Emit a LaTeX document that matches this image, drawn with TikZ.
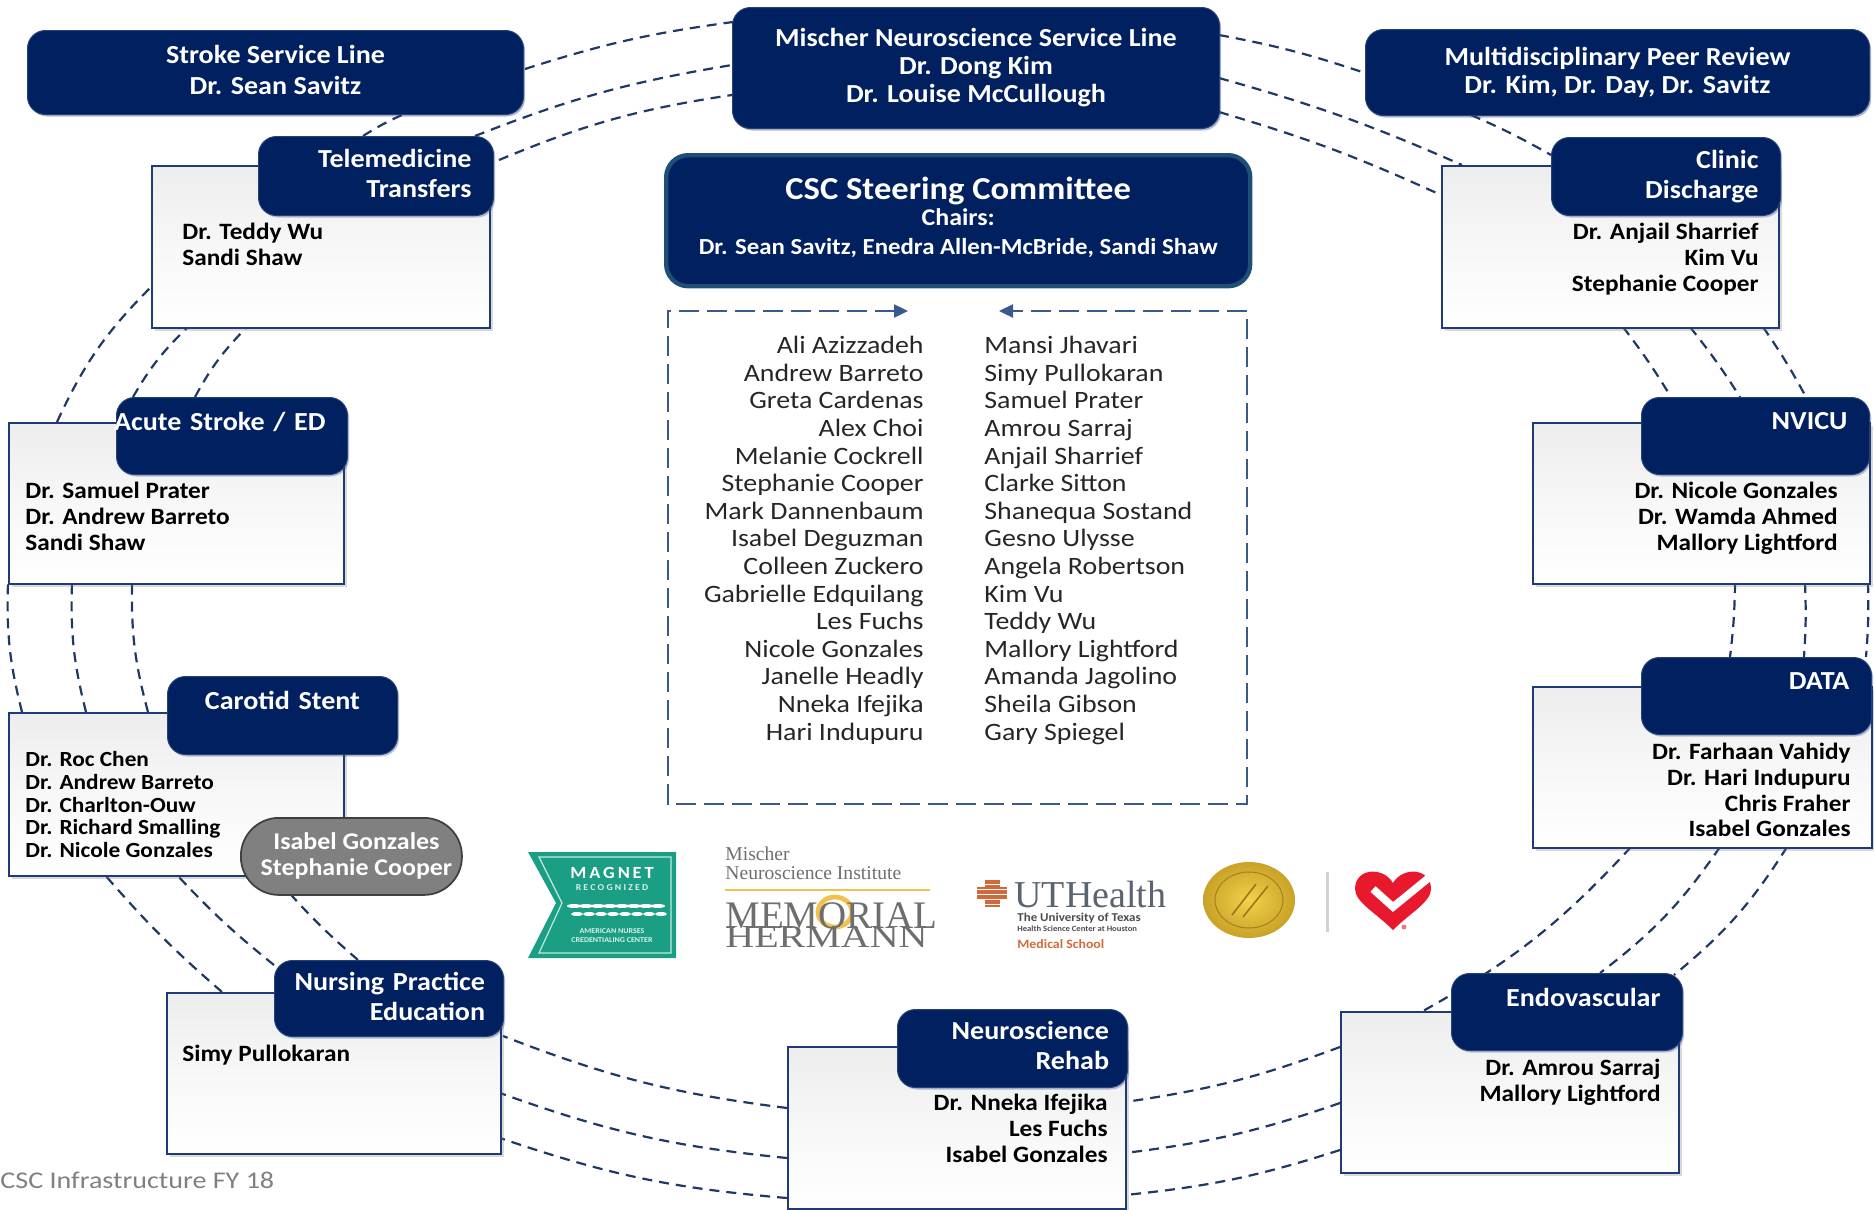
\documentclass[tikz,border=0pt]{standalone}
\usepackage{fontspec}
\setmainfont{Carlito}[FakeStretch=1.08]
\newfontfamily\namesf{Carlito}[FakeStretch=1.115]
\newfontfamily\footf{Carlito}[FakeStretch=1.17]
\newfontfamily\serifl{Liberation Serif}
\usetikzlibrary{shadows,backgrounds,arrows.meta}
\definecolor{navy}{HTML}{002060}
\definecolor{edge}{HTML}{1F3A78}
\definecolor{dashc}{HTML}{1F3864}
\definecolor{boxd}{HTML}{3A5A8C}
\definecolor{cscb}{HTML}{1F4E79}
\definecolor{magnet}{HTML}{1A9E84}
\definecolor{ut}{HTML}{D2693C}
\definecolor{utg}{HTML}{5A6470}
\definecolor{hred}{HTML}{E8192C}
\definecolor{mh}{HTML}{6E6E6E}
\definecolor{goldin}{HTML}{F2D24A}
\definecolor{goldout}{HTML}{C9A227}
\definecolor{ringy}{HTML}{F2C14E}
\newcommand\link[5]{\draw[conn] ([shift={(#2)}]#1.north west) to[bend left=#5] ([shift={(#4)}]#3.north west);}
\tikzset{
  conn/.style={draw=dashc,line width=1.1pt,dash pattern=on 5pt off 3.5pt},
  topbox/.style 2 args={rectangle,rounded corners=9pt,fill=navy,draw=navy!85!white,line width=.5pt,
    text=white,font=\fontsize{13}{14}\selectfont\bfseries,align=center,anchor=north west,inner sep=0pt,
    minimum width=#1*0.5pt,minimum height=#2*0.5pt,
    copy shadow={shadow xshift=.8pt,shadow yshift=-1pt,opacity=.35,fill=edge,draw=none}},
  hdr/.style 2 args={rectangle,rounded corners=9pt,fill=navy,draw=navy!85!white,line width=.5pt,
    text=white,font=\fontsize{13}{15}\selectfont\bfseries,align=right,anchor=north west,inner xsep=11pt,inner ysep=0pt,
    text width=#1*0.5pt-22pt,minimum height=#2*0.5pt,
    copy shadow={shadow xshift=.8pt,shadow yshift=-1pt,opacity=.3,fill=edge,draw=none}},
  wbox/.style 2 args={rectangle,anchor=north west,inner sep=0pt,draw=edge,line width=1.2pt,
    top color=black!7,bottom color=white,middle color=black!3,
    minimum width=#1*0.5pt,minimum height=#2*0.5pt,
    copy shadow={shadow xshift=1.3pt,shadow yshift=-1.3pt,opacity=.3,fill=gray,draw=none}},
  bodyl/.style={font=\fontsize{11.7}{12.8}\selectfont\bfseries,text=black,align=left,anchor=north west,inner sep=0pt},
  bodyr/.style={font=\fontsize{11.7}{12.8}\selectfont\bfseries,text=black,align=right,anchor=north east,inner sep=0pt},
  names/.style={font=\namesf\fontsize{12.5}{13.8}\selectfont,text=black!85,inner sep=0pt},
  dbox/.style={draw=boxd,line width=1.2pt,dash pattern=on 10pt off 4pt},
  logot/.style={inner sep=0pt},
}
\begin{document}
\begin{tikzpicture}[x=0.5pt,y=-0.5pt]
\useasboundingbox (0,0) rectangle (1874,1210);

% top row
\node[topbox={496}{84}] (stroke) at (27,30) {Stroke Service Line\\[1.4pt]Dr. Sean Savitz\rule[-3pt]{0pt}{3pt}};
\node[topbox={487}{121}] (mischer) at (732,7) {Mischer Neuroscience Service Line\\Dr. Dong Kim\\Dr. Louise McCullough\rule[-1.5pt]{0pt}{1.5pt}};
\node[topbox={504}{86}] (peer) at (1365,29) {Multidisciplinary Peer Review\\Dr. Kim, Dr. Day, Dr. Savitz\rule[-2.4pt]{0pt}{2.4pt}};

% steering committee
\node[rectangle,rounded corners=11pt,fill=navy,draw=cscb,line width=2.2pt,text=white,align=center,anchor=north west,inner sep=0pt,
  minimum width=584*0.5pt,minimum height=131*0.5pt] (csc) at (664,153)
  {{\fontsize{16}{19}\selectfont\bfseries CSC Steering Committee}\\[1pt]
   {\fontsize{12}{14}\selectfont\bfseries Chairs:}\\[2.5pt]
   {\fontsize{11.5}{13}\selectfont\bfseries Dr. Sean Savitz, Enedra Allen-McBride, Sandi Shaw\rule[-4.5pt]{0pt}{4.5pt}}};

% member list
\coordinate (arrL) at (908,311);
\coordinate (cTL) at (668,311);
\coordinate (cBL) at (668,804);
\coordinate (cBR) at (1247,804);
\coordinate (cTR) at (1247,311);
\coordinate (arrR) at (999,311);
\draw[dbox,{Triangle[length=7pt,width=6.5pt]}-{Triangle[length=7pt,width=6.5pt]}] (arrL) -- (cTL) -- (cBL) -- (cBR) -- (cTR) -- (arrR);
\node[names,align=right,anchor=north east] (leftnames) at (924,336)
 {Ali Azizzadeh\\Andrew Barreto\\Greta Cardenas\\Alex Choi\\Melanie Cockrell\\Stephanie Cooper\\Mark Dannenbaum\\Isabel Deguzman\\Colleen Zuckero\\Gabrielle Edquilang\\Les Fuchs\\Nicole Gonzales\\Janelle Headly\\Nneka Ifejika\\Hari Indupuru};
\node[names,align=left,anchor=north west] (rightnames) at (984,336)
 {Mansi Jhavari\\Simy Pullokaran\\Samuel Prater\\Amrou Sarraj\\Anjail Sharrief\\Clarke Sitton\\Shanequa Sostand\\Gesno Ulysse\\Angela Robertson\\Kim Vu\\Teddy Wu\\Mallory Lightford\\Amanda Jagolino\\Sheila Gibson\\Gary Spiegel};

% group boxes
\node[wbox={338}{162}] (teleB) at (151,165) {};
\node[hdr={235}{79}] (teleH) at (258,136) {Telemedicine\\Transfers\rule[-2.4pt]{0pt}{2.4pt}};
\node[bodyl] (teleT) at (182,223) {Dr. Teddy Wu\\Sandi Shaw};

\node[wbox={337}{162}] (clinB) at (1441,165) {};
\node[hdr={229}{78}] (clinH) at (1551,137) {Clinic\\Discharge};
\node[bodyr] (clinT) at (1759,223) {Dr. Anjail Sharrief\\Kim Vu\\Stephanie Cooper};

\node[wbox={335}{161}] (acuteB) at (8,422) {};
\node[hdr={231}{77}] (acuteH) at (116,397) {\llap{Acute Stroke / ED}\\~};
\node[bodyl] (acuteT) at (25,482) {Dr. Samuel Prater\\Dr. Andrew Barreto\\Sandi Shaw};

\node[wbox={337}{161}] (nvicuB) at (1532,422) {};
\node[hdr={228}{77}] (nvicuH) at (1641,397) {NVICU\\~};
\node[bodyr] (nvicuT) at (1838,482) {Dr. Nicole Gonzales\\Dr. Wamda Ahmed\\Mallory Lightford};

\node[wbox={335}{163}] (carB) at (8,712) {};
\node[hdr={230}{78}] (carH) at (167,676) {Carotid Stent\kern7.8pt\\~};
\node[bodyl,font=\fontsize{10.8}{11.4}\selectfont\bfseries] (carT) at (25,751) {Dr. Roc Chen\\Dr. Andrew Barreto\\Dr. Charlton-Ouw\\Dr. Richard Smalling\\Dr. Nicole Gonzales};
\node[rectangle,rounded corners=19pt,fill=black!50,draw=black!75,line width=.9pt,text=white,font=\fontsize{12}{13}\selectfont\bfseries,align=center,anchor=north west,inner sep=0pt,minimum width=221*0.5pt,minimum height=77*0.5pt] (pill) at (240,817) {\hspace*{5pt}Isabel Gonzales\\\hspace*{5pt}Stephanie Cooper};

\node[wbox={339}{161}] (dataB) at (1532,686) {};
\node[hdr={230}{77}] (dataH) at (1641,657) {DATA\\~};
\node[bodyr] (dataT) at (1851,743) {Dr. Farhaan Vahidy\\Dr. Hari Indupuru\\Chris Fraher\\Isabel Gonzales};

\node[wbox={338}{161}] (endoB) at (1340,1011) {};
\node[hdr={231}{77}] (endoH) at (1451,973) {Endovascular\\~};
\node[bodyr] (endoT) at (1661,1059) {Dr. Amrou Sarraj\\Mallory Lightford};

\node[wbox={334}{161}] (nurB) at (166,992) {};
\node[hdr={229}{76}] (nurH) at (274,960) {\llap{Nursing Practice}\kern-1.8pt\\Education\kern-1.8pt\rule[-2.4pt]{0pt}{2.4pt}};
\node[bodyl] (nurT) at (182,1045) {Simy Pullokaran};

\node[wbox={338}{162}] (rehB) at (787,1046) {};
\node[hdr={230}{78}] (rehH) at (897,1009) {Neuroscience\kern-1.8pt\\Rehab\kern-1.8pt\rule[-3.6pt]{0pt}{3.6pt}};
\node[bodyr] (rehT) at (1108,1094) {Dr. Nneka Ifejika\\Les Fuchs\\Isabel Gonzales};

\node[font=\footf\fontsize{12}{14}\selectfont,text=black!50,anchor=west,inner sep=0pt] (foot) at (0,1180) {CSC Infrastructure FY 18};

% ring connectors
\begin{scope}[on background layer]
\link{stroke}{498,39}{mischer}{1,15}{5}
\link{teleH}{217,0}{mischer}{0,58}{6}
\link{teleH}{241,24}{mischer}{0,88}{7}
\link{teleH}{105,0}{stroke}{375,85}{4}
\link{acuteB}{49,0}{teleB}{0,122}{10}
\link{acuteH}{17,0}{teleB}{37,162}{8}
\link{acuteH}{79,0}{teleB}{96,162}{8}
\link{carB}{14,0}{acuteB}{0,161}{8}
\link{carB}{78,0}{acuteB}{64,161}{8}
\link{carB}{140,0}{acuteB}{124,161}{8}
\link{nurB}{56,0}{carB}{97,163}{4}
\link{nurH}{0,5}{carB}{169,163}{4}
\link{nurH}{84,0}{pill}{38,63}{4}
\link{rehB}{0,62}{nurH}{229,76}{7}
\link{rehB}{0,112}{nurB}{334,101}{7}
\link{rehB}{0,152}{nurB}{334,146}{7}
\link{endoB}{0,36}{rehB}{338,56}{6}
\link{endoB}{0,92}{rehB}{338,107}{6}
\link{endoB}{0,139}{rehB}{338,149}{6}
\link{dataB}{255,161}{endoH}{223,2}{9}
\link{dataB}{188,161}{endoH}{149,0}{9}
\link{dataB}{99,161}{endoB}{83,0}{9}
\link{nvicuB}{336,161}{dataH}{225,0}{3}
\link{nvicuB}{273,161}{dataH}{163,0}{3}
\link{nvicuB}{203,161}{dataH}{89,0}{3}
\link{clinB}{182,162}{nvicuH}{30,0}{3}
\link{clinB}{249,162}{nvicuH}{99,0}{3}
\link{clinB}{322,162}{nvicuH}{165,0}{3}
\link{mischer}{487,28}{peer}{0,44}{4}
\link{peer}{106,86}{clinH}{0,18}{3}
\link{mischer}{487,71}{clinB}{21,0}{4}
\link{mischer}{487,105}{clinB}{0,30}{4}
\end{scope}

% Magnet logo
\fill[magnet] (528,852) -- (676,852) -- (676,958) -- (528,958) -- (556,903) -- cycle;
\draw[white!75!magnet,line width=.6pt] (539,857) -- (671,857) -- (671,953) -- (539,953) -- (562,903) -- cycle;
\node[logot,text=white,font=\fontsize{8.5}{9}\selectfont\bfseries] (magA) at (612,873) {M\,A\,G\,N\,E\,T};
\node[logot,text=white!85!magnet,font=\fontsize{4.5}{5}\selectfont\bfseries] (magB) at (612,888) {R E C O G N I Z E D};
\foreach \lx in {574,586,...,658}{
  \fill[white] (\lx,906) ellipse (7 and 2);
  \fill[white] (\lx+3,914) ellipse (6 and 2);}
\node[logot,text=white!85!magnet,font=\fontsize{3.7}{4.5}\selectfont\bfseries,align=center] (magC) at (612,935.5) {AMERICAN NURSES\\CREDENTIALING CENTER};

% Memorial Hermann logo
\node[logot,anchor=west,text=mh,font=\serifl\fontsize{9.8}{9.5}\selectfont,align=left] (mischt) at (725,863.5) {Mischer\\Neuroscience Institute};
\draw[draw=ringy,line width=.8pt] (725,890) -- (930,890);
\draw[draw=ringy,line width=2.4pt] (835,912) ellipse (17 and 15);
\node[logot,anchor=base west,text=mh,font=\serifl\fontsize{19.5}{20}\selectfont] (memt) at (725,928) {MEMORIAL};
\node[logot,anchor=base west,text=mh,font=\serifl\fontsize{20}{20}\selectfont,yscale=.8,transform shape] (hert) at (725,947) {HERMANN};

% UTHealth logo
\fill[ut] (985,880) rectangle (1000,907);
\fill[ut] (977,887) rectangle (1007,900);
\foreach \sy in {884,889,...,904}{\draw[white,line width=.25pt] (977,\sy) -- (1007,\sy);}
\node[logot,anchor=west,text=utg,font=\serifl\fontsize{19}{20}\selectfont] (utt) at (1014,894) {UTHealth};
\node[logot,anchor=west,text=black!70,font=\fontsize{6}{6}\selectfont\bfseries] (uta) at (1017,918) {The University of Texas};
\node[logot,anchor=west,text=black!70,font=\fontsize{4}{4}\selectfont\bfseries] (utb) at (1017,929) {Health Science Center at Houston};
\node[logot,anchor=west,text=ut,font=\fontsize{6.4}{6.4}\selectfont\bfseries] (utc) at (1017,944) {Medical School};

% seal, bar, heart
\shade[inner color=goldin,outer color=goldout] (1249,900) ellipse (46 and 38);
\draw[goldout!80!black,line width=.5pt] (1249,900) ellipse (34 and 28);
\draw[goldout!75!black,line width=.8pt] (1232,915) -- (1256,884) (1243,917) -- (1268,886);
\fill[black!18] (1326,872) rectangle (1329,932);
\fill[hred] (1393,930) .. controls (1376,913) and (1355,902) .. (1355,889)
   .. controls (1355,868) and (1383,866) .. (1393,883)
   .. controls (1403,866) and (1431,868) .. (1431,889)
   .. controls (1431,902) and (1410,913) .. (1393,930) -- cycle;
\draw[white,line width=3.8pt] (1373,889) -- (1393,907) -- (1431,876);
\fill[hred!60!white] (1404,927) circle (2.5);
\end{tikzpicture}
\end{document}
